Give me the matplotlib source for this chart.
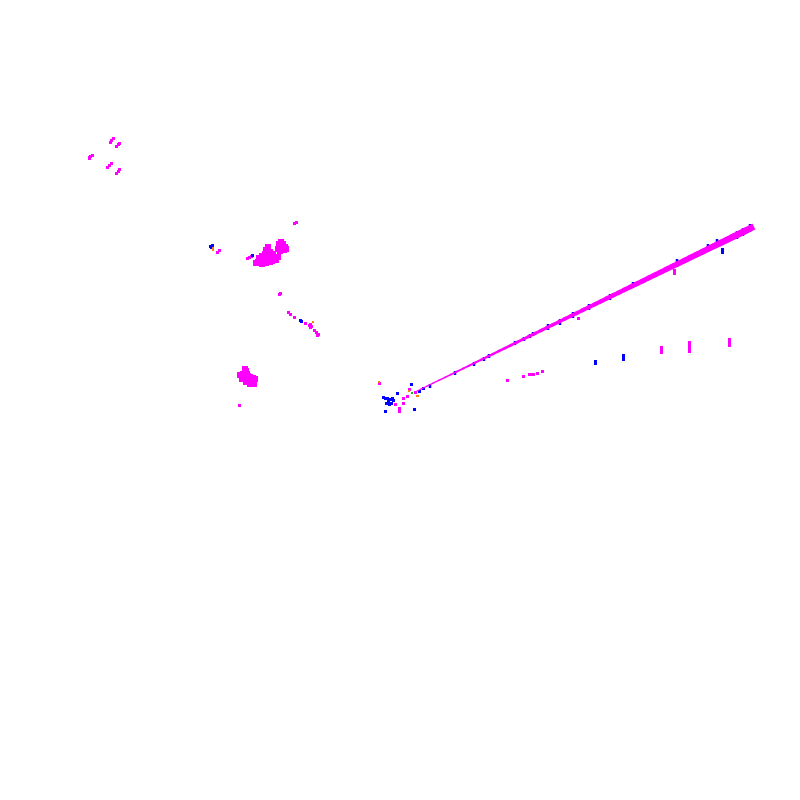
import matplotlib
matplotlib.use("Agg")
import matplotlib.pyplot as plt
from matplotlib.collections import LineCollection
import numpy as np

# point positions (pixel-like units, y grows downward)
magenta_x = [110, 111, 113, 116, 118, 119, 89, 90, 92, 89, 107, 109, 111, 116, 118, 119,
             294, 296, 217, 219, 247, 249, 251,
             279, 280, 288, 290, 294, 305, 309, 310, 310, 311, 314, 316, 318, 317,
             239, 379, 407, 409, 415, 395, 403, 403, 399, 399,
             507, 523, 529, 531, 533, 537, 542,
             661, 661, 661, 689, 689, 689, 689, 729, 729, 729,
             674, 674, 578]
magenta_y = [142, 140, 138, 146, 144, 143, 157, 156, 155, 158, 167, 165, 163, 173, 171, 169,
             223, 222, 252, 250, 258, 257, 256,
             294, 293, 312, 314, 317, 323, 325, 324, 327, 326, 330, 332, 334, 335,
             405, 383, 396, 389, 392, 404, 398, 403, 408, 411,
             380, 376, 374, 374, 374, 373, 371,
             347, 350, 352, 342, 345, 348, 351, 339, 342, 345,
             270, 273, 318]

# dense magenta blobs
blob_x = [258, 261, 262, 265, 266, 268, 270, 268, 264, 271, 275, 278, 272, 259, 256, 266, 262, 270, 276,
          267, 263, 273, 260,
          279, 281, 283, 285, 282, 278, 280, 284, 286,
          245, 246, 243, 240, 247, 250, 253, 255, 252, 249, 244, 242, 246, 254, 250, 248, 245]
blob_y = [262, 260, 256, 254, 250, 247, 252, 258, 260, 256, 258, 257, 261, 258, 263, 263, 264, 262, 260,
          255, 257, 254, 261,
          244, 242, 244, 247, 248, 249, 251, 250, 249,
          369, 371, 374, 375, 374, 377, 378, 379, 382, 380, 378, 379, 382, 384, 384, 376, 376]

blue_x = [210, 212, 211, 252, 300, 301, 411, 423, 419, 397,
          383, 385, 387, 390, 392, 393, 388, 386, 389, 391, 385, 414,
          595, 595, 623, 623, 623, 722, 722]
blue_y = [246, 245, 247, 255, 320, 321, 384, 388, 391, 393,
          397, 398, 398, 399, 398, 400, 401, 403, 404, 403, 411, 409,
          361, 363, 355, 357, 359, 249, 252]

orange_x = [213, 213, 313, 379, 409, 417, 418]
orange_y = [248, 250, 322, 382, 391, 396, 396]

green_x = [412]
green_y = [393]

# the long diagonal streak
line_x = [415, 421, 427, 433, 439, 445, 451, 457, 463, 469, 475, 481, 487, 493, 499,
          505, 511, 517, 523, 529, 535, 541, 547, 553, 559, 565, 571, 577, 583, 589,
          595, 601, 607, 613, 619, 625, 631, 637, 643, 649, 655, 661, 667, 673, 679,
          685, 691, 697, 703, 709, 715, 721, 727, 733, 739, 745, 751]
line_y = [392.0, 389.1, 386.2, 383.2, 380.3, 377.4, 374.5, 371.5, 368.6, 365.7, 362.7,
          359.8, 356.9, 354.0, 351.0, 348.1, 345.2, 342.2, 339.3, 336.4, 333.5, 330.5,
          327.6, 324.7, 321.8, 318.8, 315.9, 313.0, 310.0, 307.1, 304.2, 301.3, 298.3,
          295.4, 292.5, 289.5, 286.6, 283.7, 280.8, 277.8, 274.9, 272.0, 269.0, 266.1,
          263.2, 260.3, 257.3, 254.4, 251.5, 248.5, 245.6, 242.7, 239.8, 236.8, 233.9,
          231.0, 228.0]

# blue marks sitting on the streak
line_blue_x = [430, 455, 474, 484, 489, 515, 524, 530, 533, 548, 560, 573, 589, 610,
               633, 677, 708, 717, 737, 743, 750]
line_blue_y = [386, 373, 364, 359, 356, 343, 339, 336, 334, 327, 322, 315, 307, 297,
               285, 263, 248, 243, 235, 232, 228]

MAG = "#ff00ff"
BLUE = "#0000ff"
ORANGE = "#ff8000"
GREEN = "#00c000"
PX = 72 / 100  # points per pixel


def width_px(x):
    # streak gets thicker towards the upper right
    return 1 + (np.asarray(x) - 413) / 337 * 5.5


fig = plt.figure(figsize=(8, 8), dpi=100)
ax = fig.add_axes([0, 0, 1, 1])
ax.set_xlim(0, 800)
ax.set_ylim(800, 0)
ax.axis("off")

pts = np.column_stack([line_x, line_y])
segs = np.stack([pts[:-1], pts[1:]], axis=1)
mid_x = (pts[:-1, 0] + pts[1:, 0]) / 2
lc = LineCollection(segs, colors=MAG, linewidths=width_px(mid_x) * PX, capstyle="projecting")
ax.add_collection(lc)

ax.scatter(blob_x, blob_y, s=(6 * PX) ** 2, marker="s", c=MAG, linewidths=0)
ax.scatter(magenta_x, magenta_y, s=(3 * PX) ** 2, marker="s", c=MAG, linewidths=0)
ax.scatter(blue_x, blue_y, s=(3 * PX) ** 2, marker="s", c=BLUE, linewidths=0)
ax.scatter(orange_x, orange_y, s=(2.5 * PX) ** 2, marker="s", c=ORANGE, linewidths=0)
ax.scatter(green_x, green_y, s=(2 * PX) ** 2, marker="s", c=GREEN, linewidths=0)
ax.scatter(line_blue_x, line_blue_y, s=((width_px(line_blue_x) + 2) * PX) ** 2, marker="|",
           c=BLUE, linewidths=2.5 * PX)

fig.savefig("out.png", dpi=100, facecolor="white")
